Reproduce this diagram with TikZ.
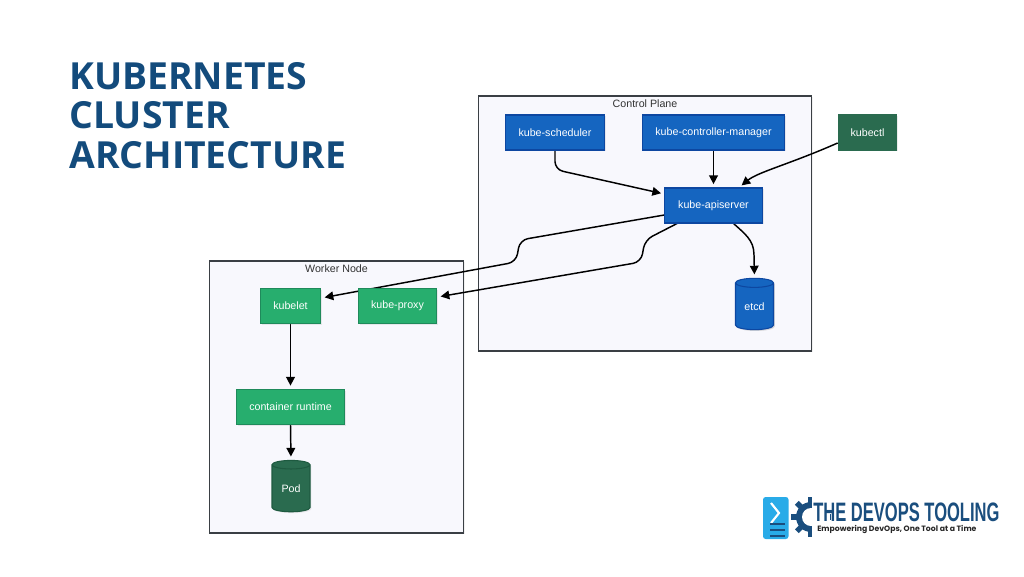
\documentclass[tikz,border=0pt]{standalone}
\usepackage{fontspec}
\setmainfont{Liberation Sans}
\newfontfamily\headfont{Open Sans}
\newfontfamily\logofont[FakeStretch=0.62]{Liberation Sans}
\newfontfamily\tagfont{Poppins}
\usetikzlibrary{arrows.meta,backgrounds,shadows,shapes.geometric}
\definecolor{headblue}{HTML}{134B7C}
\definecolor{planefill}{HTML}{F8F8FD}
\definecolor{planeline}{HTML}{3A3F44}
\definecolor{apiblue}{HTML}{1565C0}
\definecolor{apiline}{HTML}{0D47A1}
\definecolor{nodegreen}{HTML}{27AE6E}
\definecolor{nodeline}{HTML}{1F8A5B}
\definecolor{podgreen}{HTML}{2A6B4F}
\definecolor{podline}{HTML}{1E5A40}
\definecolor{logoblue}{HTML}{1A4E7E}
\definecolor{logosky}{HTML}{29ABE8}
\tikzstyle{plane}   = [shape=rectangle,draw=planeline,line width=1pt,fill=planefill,drop shadow={opacity=.12,shadow xshift=1pt,shadow yshift=-1pt}]
\tikzstyle{planetext} = [font=\fontsize{8}{10}\selectfont,text=black!80]
\tikzstyle{box}     = [shape=rectangle,line width=.8pt,minimum height=26.25pt,inner sep=0pt,text=white,font=\fontsize{8}{10}\selectfont,drop shadow={opacity=.15,shadow xshift=1pt,shadow yshift=-1pt}]
\tikzstyle{control} = [box,fill=apiblue,draw=apiline]
\tikzstyle{worker}  = [box,fill=nodegreen,draw=nodeline]
\tikzstyle{client}  = [box,fill=podgreen,draw=podgreen]
\tikzstyle{store}   = [box,shape=cylinder,shape border rotate=90,aspect=.45,minimum width=28.5pt,minimum height=38.5pt]
\tikzstyle{link}    = [line width=1.1pt,black,-{Triangle[length=6.5pt,width=6.5pt]},shorten >=2.5pt]

\begin{document}
\begin{tikzpicture}[x=.75pt,y=-.75pt]
  \useasboundingbox (0,0) rectangle (1024,576);

  \node[anchor=north west,align=left,inner sep=0pt,text=headblue,font=\headfont\bfseries\fontsize{28}{29.6}\selectfont] (title) at (69,62) {KUBERNETES\\CLUSTER\\ARCHITECTURE};

  % Control plane
  \node[control,minimum width=74.5pt] (scheduler) at (555,132.5) {kube-scheduler};
  \node[control,minimum width=107pt] (manager) at (713.5,132.5) {kube-controller-manager};
  \node[control,minimum width=73pt] (apiserver) at (713.5,205.5) {kube-apiserver};
  \node[control,store] (etcd) at (754.5,306.5) {etcd};
  \node[client,minimum width=44pt] (kubectl) at (867.5,132.5) {kubectl};

  % Worker node
  \node[worker,minimum width=45.5pt] (kubelet) at (290.5,306) {kubelet};
  \node[worker,minimum width=59pt] (proxy) at (397.5,306) {kube-proxy};
  \node[worker,minimum width=81.5pt] (runtime) at (290.5,407) {container runtime};
  \node[store,fill=podgreen,draw=podline] (pod) at (291,488.5) {Pod};

  \begin{scope}[on background layer]
    \node[plane,minimum width=249.5pt,minimum height=191.25pt] (controlframe) at (645,223.5) {};
    \node[planetext] (controltext) at (645,104) {Control Plane};
    \node[plane,minimum width=190.5pt,minimum height=204pt] (workerframe) at (336.5,397) {};
    \node[planetext] (workertext) at (336.5,269) {Worker Node};

    \draw[link,rounded corners=6pt] (scheduler.south) -- ++(0,19) -- (apiserver.west |- 0,194);
    \draw[link] (manager.south) -- (apiserver.north);
    \draw[link] (kubectl.west |- 0,143) .. controls (790,164) and (758,172) .. (apiserver.north -| 739,0);
    \draw[link,rounded corners=6pt] (apiserver.west |- 0,215) -- (520,240) -- (516,262) -- (kubelet.east |- 0,298);
    \draw[link,rounded corners=6pt] (678,223) -- (645,240) -- (641,262) -- (proxy.east |- 0,297);
    \draw[link] (733,223) .. controls (745,234) and (754,240) .. (754,255) -- (etcd.north);
    \draw[link] (kubelet.south) -- (runtime.north);
    \draw[link] (runtime.south) -- (pod.north);
  \end{scope}

  % Logo
  \fill[logosky,rounded corners=2pt] (763,497) rectangle (788.5,539);
  \draw[white,line width=1.6pt] (771,503) -- (779,513) -- (771,523);
  \foreach \y in {524,530,536} \draw[logoblue,line width=1.5pt] (770,\y) -- (785,\y);
  \fill[logoblue] (811,517) circle (15);
  \foreach \a in {0,45,...,315} \draw[logoblue,line width=4pt,shift={(811,517)}] (\a:12) -- (\a:20);
  \fill[white] (811,517) circle (9);
  \fill[white] (812,495) rectangle (830,540);
  \node[anchor=west,inner sep=0pt,text=logoblue,font=\logofont\bfseries\fontsize{20}{20}\selectfont] (logoname) at (813,512) {THE DEVOPS TOOLING};
  \node[anchor=west,inner sep=0pt,text=black!85,font=\tagfont\bfseries\fontsize{5.8}{7}\selectfont] (logotag) at (817,529) {Empowering DevOps, One Tool at a Time};
\end{tikzpicture}
\end{document}
